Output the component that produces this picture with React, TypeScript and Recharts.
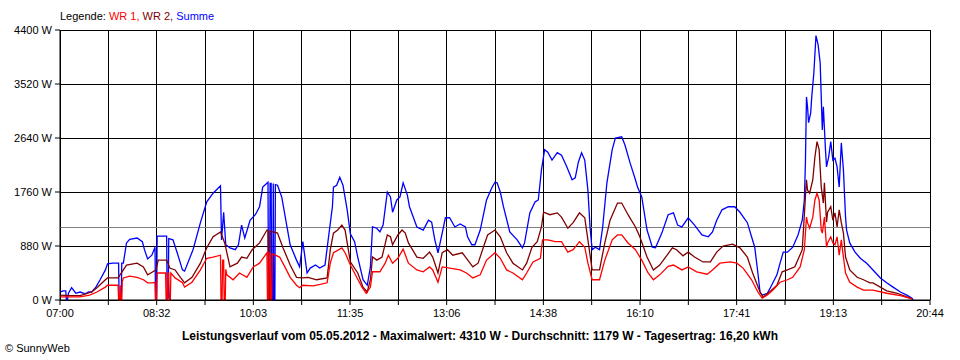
import { LineChart, Line, XAxis, YAxis, CartesianGrid, ReferenceLine } from 'recharts';

// minutes after 07:00, watts
const wr1: [number, number][] = [
  [0, 50], [19, 50], [28, 80], [35, 130], [43, 210], [45, 240], [55, 240], [55.5, 0], [56.5, 0], [57, 240], [57.5, 0], [58.5, 0], [59, 300],
  [60, 360], [66, 390], [73, 370], [79, 330], [83, 280], [88, 280], [90, 290], [90.5, 0], [91.5, 0], [92, 440], [100, 440], [100.5, 0],
  [101.5, 0], [102, 440], [103, 440], [103.5, 0], [104.5, 0], [105, 440], [106, 420], [109, 360], [116, 280], [118, 210], [125, 290],
  [133, 490], [139, 680], [145, 700], [152, 730], [152.5, 0], [153.5, 0], [154, 650], [155, 650], [155.5, 0], [156.5, 0], [157, 500],
  [158, 410], [164, 330], [170, 440], [177, 370], [183, 540], [189, 600], [196, 770], [196.5, 0], [197.5, 0], [198, 770], [199, 760],
  [199.5, 0], [200.5, 0], [201, 750], [204, 730], [208, 700], [213, 540], [218, 370], [224, 240], [227, 200], [230, 240], [240, 230],
  [253, 280], [256, 600], [259, 770], [267, 850], [270, 770], [275, 570], [281, 370], [286, 210], [290, 110], [294, 210], [296, 460],
  [303, 460], [308, 600], [311, 730], [315, 600], [320, 680], [325, 830], [330, 600], [338, 490], [344, 460], [350, 540], [353, 490],
  [358, 290], [362, 540], [369, 520], [379, 490], [385, 440], [391, 360], [398, 410], [404, 650], [412, 770], [417, 680], [423, 490],
  [429, 440], [438, 330], [442, 440], [448, 620], [455, 680], [457, 980], [462, 980], [469, 950], [475, 950], [481, 780], [486, 820],
  [492, 950], [497, 860], [500, 600], [504, 330], [511, 330], [516, 650], [523, 980], [528, 1060], [532, 1060], [538, 930], [545, 820],
  [551, 650], [557, 440], [562, 330], [568, 410], [576, 550], [581, 570], [589, 490], [595, 540], [603, 460], [613, 420], [618, 490],
  [625, 600], [635, 620], [641, 600], [647, 520], [655, 330], [661, 130], [665, 30], [670, 80], [675, 160], [682, 290], [689, 330],
  [694, 370], [701, 540], [705, 820], [707, 1350], [708, 1260], [710, 1170], [713, 1350], [715, 1630], [717, 1740], [719, 1630],
  [721, 1140], [722, 1090], [724, 1350], [726, 860], [727, 930], [730, 1030], [732, 930], [734, 900], [736, 1030], [738, 730],
  [740, 980], [742, 700], [744, 440], [748, 290], [755, 210], [761, 160], [770, 160], [783, 110], [796, 70], [807, 20],
];

const wr2: [number, number][] = [
  [0, 80], [9, 70], [19, 70], [30, 130], [35, 200], [43, 330], [45, 360], [55, 360], [60, 490], [63, 570], [73, 600], [79, 540],
  [83, 410], [88, 460], [91, 490], [93, 650], [101, 650], [104, 520], [109, 490], [114, 370], [118, 280], [125, 370], [133, 600],
  [139, 850], [145, 1030], [152, 1110], [156, 930], [161, 540], [168, 600], [172, 700], [177, 680], [182, 820], [189, 930],
  [196, 1140], [197, 1140], [197.5, 0], [198.5, 0], [199, 1120], [202, 1110], [206, 1090], [211, 860], [218, 570], [224, 370],
  [230, 360], [235, 370], [243, 330], [253, 360], [256, 820], [259, 1090], [263, 1140], [267, 1220], [270, 1140], [275, 620],
  [277, 570], [282, 440], [287, 210], [291, 130], [294, 330], [296, 700], [300, 650], [305, 700], [310, 1060], [313, 1030],
  [315, 900], [320, 1060], [324, 1140], [327, 1090], [330, 930], [338, 700], [344, 680], [350, 780], [353, 700], [358, 440],
  [362, 770], [367, 820], [372, 730], [381, 770], [385, 680], [391, 540], [396, 600], [401, 860], [405, 1060], [412, 1140],
  [417, 1030], [423, 770], [429, 600], [438, 490], [442, 600], [447, 860], [452, 950], [456, 1190], [458, 1430], [464, 1390],
  [471, 1420], [475, 1350], [481, 1170], [486, 1260], [492, 1420], [497, 1340], [500, 980], [504, 490], [511, 490], [516, 930],
  [521, 1300], [528, 1580], [532, 1580], [538, 1390], [545, 1190], [549, 1040], [556, 700], [562, 490], [568, 570], [575, 730],
  [580, 850], [584, 820], [590, 720], [595, 780], [601, 700], [609, 620], [616, 620], [622, 780], [628, 880], [637, 910],
  [644, 850], [651, 700], [656, 440], [663, 130], [666, 50], [672, 130], [679, 240], [684, 460], [689, 490], [696, 540],
  [703, 820], [706, 1680], [707, 1960], [708, 1790], [710, 1740], [713, 1960], [715, 2330], [717, 2580], [719, 2450], [721, 1840],
  [723, 1580], [724, 1910], [726, 1270], [727, 1430], [730, 1520], [732, 1300], [734, 1420], [736, 1190], [738, 1470], [740, 1260],
  [742, 1090], [744, 700], [748, 490], [755, 370], [761, 330], [767, 280], [770, 280], [783, 150], [793, 110], [802, 50], [807, 20],
];

const summe: [number, number][] = [
  [0, 130], [3, 150], [5.5, 150], [6, 0], [7, 0], [8, 110], [11, 200], [15, 110], [19, 130], [24, 100], [27, 130], [30, 130],
  [34, 210], [38, 330], [43, 490], [45, 590], [50, 600], [55.5, 600], [56, 0], [58, 0], [58.5, 600], [60, 600], [63, 930],
  [66, 990], [73, 1010], [78, 950], [80, 820], [83, 670], [87, 730], [90, 860], [90.5, 0], [91.5, 0], [92, 1040], [101, 1040],
  [101.5, 30], [102.5, 30], [103, 1000], [107, 980], [111, 770], [116, 490], [118, 470], [126, 820], [133, 1260], [139, 1600],
  [145, 1740], [152, 1860], [153, 980], [155, 1430], [157, 900], [161, 850], [166, 820], [169, 900], [172, 1220], [175, 1010],
  [180, 1300], [185, 1390], [189, 1520], [192, 1840], [197, 1920], [197.5, 0], [198.5, 0], [199, 1900], [200, 1900], [200.5, 0],
  [201.5, 0], [202, 1900], [202.5, 0], [203.5, 0], [204, 1880], [206, 1870], [210, 1680], [215, 1190], [218, 900], [224, 650],
  [227, 540], [230, 950], [234, 440], [237, 520], [242, 570], [246, 520], [251, 570], [254, 980], [258, 1520], [259, 1840],
  [262, 1870], [265, 2000], [268, 1870], [272, 1470], [275, 1080], [279, 950], [282, 700], [287, 330], [291, 240], [294, 540],
  [296, 1190], [300, 1170], [303, 1110], [306, 1220], [310, 1760], [313, 1680], [315, 1430], [319, 1630], [322, 1680], [325, 1910],
  [329, 1710], [331, 1520], [338, 1190], [344, 1140], [349, 1300], [352, 1270], [355, 980], [358, 770], [362, 1090], [365, 1340],
  [369, 1340], [374, 1190], [379, 1240], [384, 1190], [386, 1030], [390, 900], [393, 900], [398, 1140], [404, 1630], [409, 1830],
  [412, 1920], [414, 1910], [417, 1760], [420, 1520], [426, 1110], [433, 980], [438, 850], [440, 930], [445, 1420], [450, 1600],
  [453, 1630], [456, 2120], [459, 2450], [462, 2410], [466, 2280], [471, 2400], [475, 2360], [480, 2170], [485, 1960], [488, 1990],
  [491, 2250], [494, 2400], [497, 2280], [500, 1790], [502, 1190], [504, 820], [507, 860], [511, 820], [514, 1190], [518, 1910],
  [523, 2450], [526, 2640], [532, 2660], [535, 2530], [540, 2230], [545, 1960], [547, 1840], [551, 1680], [556, 1140], [561, 860],
  [564, 850], [570, 1090], [576, 1390], [581, 1420], [585, 1220], [589, 1190], [595, 1340], [601, 1220], [608, 1060], [614, 1030],
  [618, 1110], [622, 1300], [627, 1470], [633, 1520], [639, 1520], [644, 1430], [651, 1260], [655, 1030], [658, 860], [661, 440],
  [663, 130], [665, 80], [670, 110], [674, 240], [679, 410], [682, 600], [685, 780], [689, 780], [694, 860], [699, 1060],
  [703, 1300], [705, 1630], [706, 2230], [707, 3310], [708, 3150], [709, 2890], [711, 3050], [712, 3310], [714, 3700], [716, 4310],
  [718, 4160], [720, 3860], [721, 3310], [722, 2770], [723, 3150], [725, 2450], [726, 2170], [728, 2330], [730, 2580], [732, 2280],
  [734, 2310], [736, 2170], [738, 1840], [740, 2560], [742, 2120], [744, 1350], [745, 1140], [748, 930], [753, 780], [758, 680],
  [764, 600], [770, 490], [777, 360], [783, 280], [789, 210], [796, 130], [802, 80], [807, 30], [808, 0],
];

const timeLabels = ['07:00', '08:32', '10:03', '11:35', '13:06', '14:38', '16:10', '17:41', '19:13', '20:44'];
const yTicks = [0, 880, 1760, 2640, 3520, 4400];
const average = 1179;
const totalMinutes = 824;

const xTicks = Array.from({ length: 19 }, (_, i) => (i * totalMinutes) / 18);

const toRows = (arr: [number, number][]) => arr.map(([t, v]) => ({ t, v }));

const font = '"Liberation Sans", Arial, sans-serif';

export default function App() {
  return (
    <div style={{ position: 'relative', width: 960, height: 360, background: '#fff', fontFamily: font }}>
      <style>{'body{margin:0}'}</style>
      <div style={{ position: 'absolute', left: 60, top: 10, fontSize: 11, whiteSpace: 'nowrap', lineHeight: '13px' }}>
        <span style={{ color: '#000' }}>Legende: </span>
        <span style={{ color: '#ff0000' }}>WR 1, </span>
        <span style={{ color: '#800000' }}>WR 2, </span>
        <span style={{ color: '#0000ff' }}>Summe</span>
      </div>
      <LineChart width={960} height={360} data={toRows(summe)} margin={{ top: 30, right: 30, bottom: 30, left: 0 }}>
        <CartesianGrid stroke="#000" strokeWidth={1} shapeRendering="crispEdges" />
        <XAxis
          dataKey="t"
          type="number"
          domain={[0, totalMinutes]}
          ticks={xTicks}
          interval={0}
          allowDataOverflow
          height={30}
          tickSize={5}
          tickMargin={4}
          axisLine={{ stroke: '#000' }}
          tickLine={{ stroke: '#000' }}
          tick={{ fill: '#000', fontSize: 11, fontFamily: font }}
          tickFormatter={(v: number, i: number) => (i % 2 === 0 ? timeLabels[i / 2] : '')}
        />
        <YAxis
          type="number"
          domain={[0, 4400]}
          ticks={yTicks}
          interval={0}
          width={60}
          tickSize={5}
          tickMargin={3}
          axisLine={{ stroke: '#000' }}
          tickLine={{ stroke: '#000' }}
          tick={{ fill: '#000', fontSize: 11, fontFamily: font }}
          tickFormatter={(v: number) => `${v} W`}
        />
        <ReferenceLine y={average} stroke="#808080" strokeWidth={1} shapeRendering="crispEdges" />
        <Line data={toRows(summe)} dataKey="v" type="linear" stroke="#0000ff" strokeWidth={1.3} dot={false} isAnimationActive={false} />
        <Line data={toRows(wr2)} dataKey="v" type="linear" stroke="#800000" strokeWidth={1.3} dot={false} isAnimationActive={false} />
        <Line data={toRows(wr1)} dataKey="v" type="linear" stroke="#ff0000" strokeWidth={1.3} dot={false} isAnimationActive={false} />
      </LineChart>
      <div style={{ position: 'absolute', left: 0, width: 960, top: 329, textAlign: 'center', fontSize: 12, fontWeight: 'bold', whiteSpace: 'nowrap' }}>
        Leistungsverlauf vom 05.05.2012 - Maximalwert: 4310 W - Durchschnitt: 1179 W - Tagesertrag: 16,20 kWh
      </div>
      <div style={{ position: 'absolute', left: 5, top: 342, fontSize: 11, whiteSpace: 'nowrap' }}>
        © SunnyWeb
      </div>
    </div>
  );
}
